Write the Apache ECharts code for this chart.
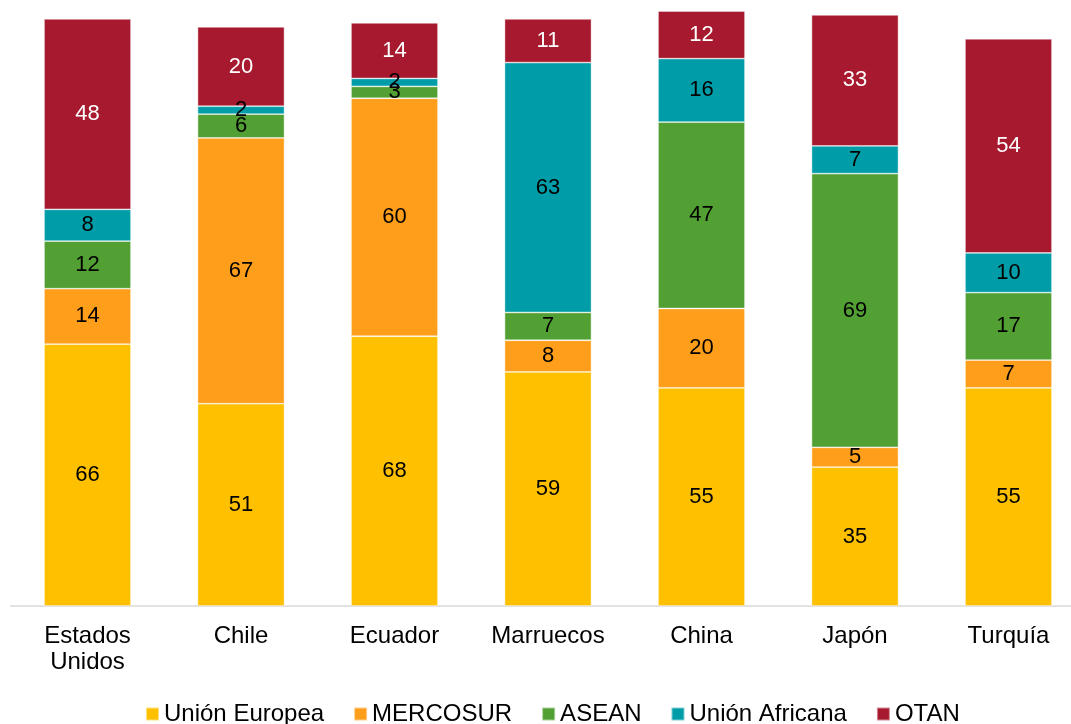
<!DOCTYPE html>
<html>
<head>
<meta charset="utf-8">
<script src="https://cdn.jsdelivr.net/npm/echarts@6/dist/echarts.min.js"></script>
<style>
html,body{margin:0;padding:0;background:#fff;overflow:hidden;}
#c{width:1086px;height:724px;}
</style>
</head>
<body>
<div id="c"></div>
<script>
const categories = ['Estados\nUnidos', 'Chile', 'Ecuador', 'Marruecos', 'China', 'Japón', 'Turquía'];
const unionEuropea = [66, 51, 68, 59, 55, 35, 55];
const mercosur = [14, 67, 60, 8, 20, 5, 7];
const asean = [12, 6, 3, 7, 47, 69, 17];
const unionAfricana = [8, 2, 2, 63, 16, 7, 10];
const otan = [48, 20, 14, 11, 12, 33, 54];

const seriesNames = ['Unión Europea', 'MERCOSUR', 'ASEAN', 'Unión Africana', 'OTAN'];
const seriesData = [unionEuropea, mercosur, asean, unionAfricana, otan];
const colors = ['#FFC000', '#FF9E1B', '#52A033', '#009DA8', '#A6192E'];
const labelColors = ['#000', '#000', '#000', '#000', '#fff'];

const FONT = 'Liberation Sans, Arial, sans-serif';
const chart = echarts.init(document.getElementById('c'));
chart.setOption({
  animation: false,
  textStyle: { fontFamily: FONT },
  grid: { left: 10.75, top: 11, right: 0.75, bottom: 118, containLabel: false },
  legend: {
    top: 697,
    left: 140,
    itemWidth: 13,
    itemHeight: 13,
    itemGap: 29,
    icon: 'rect',
    textStyle: { fontSize: 24, color: '#000', fontFamily: FONT },
    data: seriesNames
  },
  xAxis: {
    type: 'category',
    data: categories,
    axisLine: { lineStyle: { color: '#D9D9D9', width: 1.5 } },
    axisTick: { show: false },
    axisLabel: { fontSize: 24, color: '#000', lineHeight: 26, margin: 17, interval: 0, fontFamily: FONT }
  },
  yAxis: {
    type: 'value',
    min: 0,
    max: 150,
    show: false,
    splitLine: { show: false }
  },
  series: seriesData.map((d, i) => ({
    name: seriesNames[i],
    type: 'bar',
    stack: 'total',
    barWidth: 87,
    data: d,
    itemStyle: { color: colors[i], borderColor: 'rgba(255,255,255,0.5)', borderWidth: 0.8 },
    label: {
      show: true,
      position: 'inside',
      fontSize: 22,
      color: labelColors[i],
      fontFamily: FONT
    }
  }))
});
</script>
</body>
</html>
